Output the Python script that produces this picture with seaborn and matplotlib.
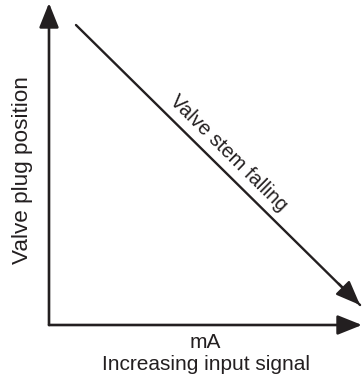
import pandas as pd
import matplotlib
matplotlib.use("Agg")
import matplotlib.pyplot as plt
import seaborn as sns

# input signal (mA) vs valve plug position (%)
signal_ma = [4, 20]
plug_position = [100, 0]
line_label = "Valve stem falling"
x_title = "mA\nIncreasing input signal"
y_title = "Valve plug position"

df = pd.DataFrame({"signal": signal_ma, "position": plug_position})

sns.set_style("white")
plt.rcParams["font.family"] = ["Liberation Sans", "DejaVu Sans"]

fig = plt.figure(figsize=(3.62, 3.80), dpi=100)
# axes placed in pixels: x 49..362, y 3..325
ax = fig.add_axes([49 / 362, (380 - 325) / 380, (362 - 49) / 362, (325 - 3) / 380])

sns.lineplot(data=df, x="signal", y="position", color="#231f20", lw=1.7, ax=ax)

ax.set_xlim(2.48, 20.11)
ax.set_ylim(-7.14, 107.86)

# arrowhead at the end of the line
ax.annotate("", xy=(signal_ma[-1], plug_position[-1]),
            xytext=(signal_ma[-1] - 1.2, plug_position[-1] + 7.6),
            arrowprops=dict(arrowstyle="-|>,head_length=0.75,head_width=0.3",
                            color="#231f20", lw=1.7, mutation_scale=20,
                            shrinkA=0, shrinkB=0))

# axis arrows
for tip in [(1, 0), (0, 1)]:
    ax.annotate("", xy=tip, xytext=(0, 0), xycoords="axes fraction",
                textcoords="axes fraction",
                arrowprops=dict(arrowstyle="-|>,head_length=0.75,head_width=0.3",
                                color="#231f20", lw=1.9, mutation_scale=20,
                                shrinkA=0, shrinkB=0))

ax.text(12.6, 54.3, line_label, rotation=-44.6, rotation_mode="anchor",
        ha="center", va="center", fontsize=14.5, color="#231f20")

ax.set_xlabel(x_title, fontsize=15, color="#231f20", labelpad=6, linespacing=1.15)
ax.set_ylabel(y_title, fontsize=16.2, color="#231f20")
ax.yaxis.set_label_coords(-0.052, 0.481)
ax.set_xticks([])
ax.set_yticks([])
sns.despine(ax=ax, left=True, bottom=True)
ax.patch.set_alpha(0)

fig.savefig("out.png", dpi=100)
